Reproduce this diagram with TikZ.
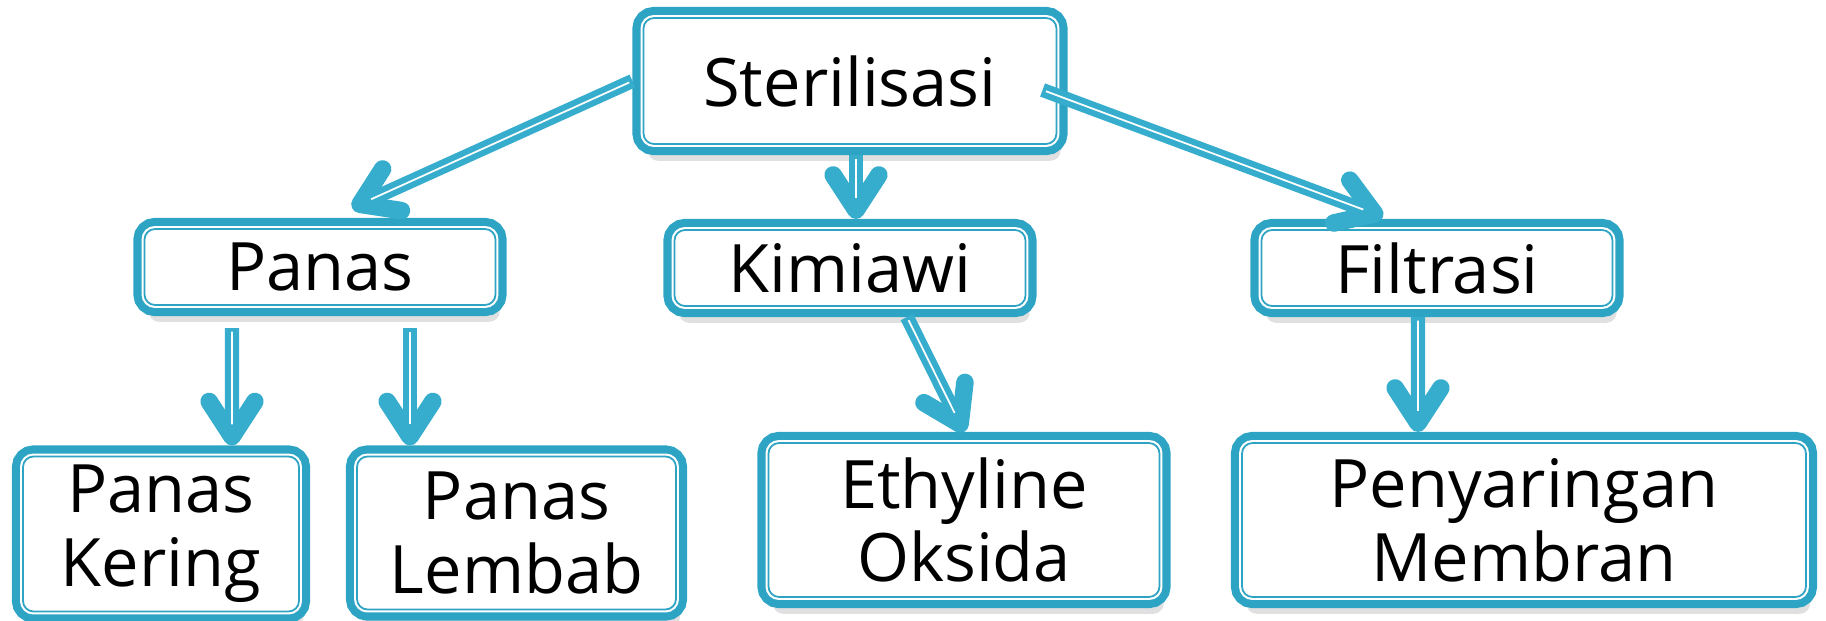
\documentclass[tikz,border=0pt]{standalone}
\usepackage{fontspec}
\setmainfont{Open Sans}
\usetikzlibrary{arrows.meta,shadows}
\definecolor{sky}{RGB}{46,164,196}
\definecolor{skyline}{RGB}{54,173,204}
\tikzset{
  kotak/.style={drop shadow={shadow xshift=1.2pt, shadow yshift=-4.8pt,
      fill=black, opacity=0.12},
    draw=sky, line width=0.5pt, fill=white, rounded corners=3pt,
    inner sep=0pt, outer sep=3.15pt, align=center, text=black,
    font=\fontsize{19}{21}\selectfont,
    preaction={draw=sky, line width=6.3pt},
    preaction={draw=white, line width=1.7pt}},
  panah/.style={draw=skyline, line width=4pt,
    -{Straight Barb[round,length=10pt,width=13pt,line width=5pt 0]},
    postaction={draw=white, line width=0.5pt, -, shorten >=6pt, shorten <=1pt}}
}
\begin{document}
\begin{tikzpicture}
  \useasboundingbox (0,0) rectangle (18.26,-6.21);
  \node[kotak, minimum width=4.13cm, minimum height=1.26cm] (ster) at (8.50,-0.81) {Sterilisasi};
  \node[kotak, minimum width=3.51cm, minimum height=0.76cm] (panas) at (3.20,-2.67) {Panas};
  \node[kotak, minimum width=3.51cm, minimum height=0.76cm] (kimia) at (8.50,-2.68) {Kimiawi};
  \node[kotak, minimum width=3.51cm, minimum height=0.76cm] (filtr) at (14.37,-2.68) {Filtrasi};
  \node[kotak, minimum width=2.76cm, minimum height=1.55cm] (kering) at (1.61,-5.34) {Panas\\Kering};
  \node[kotak, minimum width=3.19cm, minimum height=1.53cm] (lembab) at (5.165,-5.33) {Panas\\Lembab};
  \node[kotak, minimum width=3.91cm, minimum height=1.54cm] (etil) at (9.64,-5.20) {Ethyline\\Oksida};
  \node[kotak, minimum width=5.64cm, minimum height=1.54cm] (saring) at (15.24,-5.20) {Penyaringan\\Membran};
  \draw[panah] (ster.west) -- ([shift={(0.32,0.10)}]panas.north);
  \draw[panah] ([xshift=0.06cm]ster.south) -- ([xshift=0.06cm]kimia.north);
  \draw[panah] ([shift={(-0.25,-0.09)}]ster.east) -- ([shift={(-0.54,0.02)}]filtr.north);
  \draw[panah] ([shift={(-0.88,-0.12)}]panas.south) -- ([xshift=0.71cm]kering.north);
  \draw[panah] ([shift={(0.90,-0.12)}]panas.south) -- ([xshift=-1.065cm]lembab.north);
  \draw[panah] ([xshift=0.57cm]kimia.south) -- (etil.north);
  \draw[panah] ([xshift=-0.19cm]filtr.south) -- ([xshift=-1.06cm]saring.north);
\end{tikzpicture}
\end{document}
